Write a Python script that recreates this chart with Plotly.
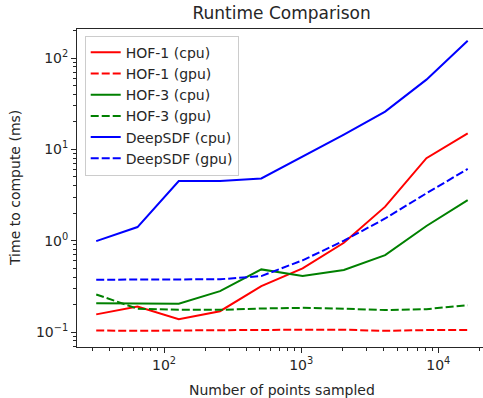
import plotly.graph_objects as go

# ---- data ----
n_points = [32, 64, 128, 256, 512, 1024, 2048, 4096, 8192, 16384]
hof1_cpu = [0.156, 0.19, 0.138, 0.169, 0.318, 0.497, 0.95, 2.36, 8.0, 15.0]
hof1_gpu = [0.104, 0.103, 0.104, 0.105, 0.106, 0.106, 0.106, 0.103, 0.105, 0.105]
hof3_cpu = [0.207, 0.207, 0.204, 0.28, 0.485, 0.41, 0.477, 0.695, 1.45, 2.78]
hof3_gpu = [0.258, 0.18, 0.175, 0.175, 0.181, 0.184, 0.180, 0.174, 0.178, 0.197]
deep_cpu = [0.99, 1.41, 4.5, 4.5, 4.8, 8.3, 14.5, 25.9, 58.0, 155.0]
deep_gpu = [0.374, 0.374, 0.376, 0.378, 0.41, 0.61, 1.0, 1.75, 3.3, 6.1]

series = [
    ("HOF-1 (cpu)", hof1_cpu, "#ff0000", "solid"),
    ("HOF-1 (gpu)", hof1_gpu, "#ff0000", "8px,3px"),
    ("HOF-3 (cpu)", hof3_cpu, "#008000", "solid"),
    ("HOF-3 (gpu)", hof3_gpu, "#008000", "8px,3px"),
    ("DeepSDF (cpu)", deep_cpu, "#0000ff", "solid"),
    ("DeepSDF (gpu)", deep_gpu, "#0000ff", "8px,3px"),
]

x_major = [100, 1000, 10000]
x_major_text = ["10<sup>2</sup>", "10<sup>3</sup>", "10<sup>4</sup>"]
y_major = [0.1, 1, 10, 100]
y_major_text = ["10<sup>\u22121</sup>", "10<sup>0</sup>", "10<sup>1</sup>", "10<sup>2</sup>"]

x_minor = [m * 10 ** e for e in range(1, 5) for m in range(2, 10)]
y_minor = [m * 10 ** e for e in range(-2, 3) for m in range(2, 10)]

FONT = "DejaVu Sans"

fig = go.Figure()
for i, (name, vals, color, dash) in enumerate(series):
    fig.add_trace(go.Scatter(
        x=n_points, y=vals, mode="lines", name=name,
        line=dict(color=color, width=2, dash=dash),
    ))

fig.update_layout(
    width=483, height=398,
    margin=dict(l=77, r=0, t=29, b=51),
    paper_bgcolor="white", plot_bgcolor="white",
    font=dict(family=FONT, size=14, color="#262626"),
    showlegend=True,
    title=dict(text="Runtime Comparison", x=0.504, xref="paper", xanchor="center",
               y=1 - 13 / 398, yref="container", yanchor="middle",
               font=dict(family=FONT, size=17, color="#262626")),
    legend=dict(x=0.019, y=0.979, xanchor="left", yanchor="top",
                bgcolor="rgba(255,255,255,0.8)", bordercolor="#cccccc", borderwidth=1,
                font=dict(family=FONT, size=14, color="#262626"),
                traceorder="normal", itemwidth=30),
)

fig.update_xaxes(
    type="log", range=[1.365, 4.326],
    showgrid=False, zeroline=False,
    showline=True, linecolor="#262626", linewidth=1, mirror=True,
    ticks="outside", ticklen=5, tickcolor="#262626",
    tickmode="array", tickvals=x_major, ticktext=x_major_text,
    minor=dict(ticks="outside", ticklen=3, tickcolor="#262626", tickmode="array", tickvals=x_minor, showgrid=False),
)
fig.update_yaxes(
    type="log", range=[-1.164, 2.318],
    showgrid=False, zeroline=False,
    showline=True, linecolor="#262626", linewidth=1, mirror=False,
    ticks="outside", ticklen=5, tickcolor="#262626",
    tickmode="array", tickvals=y_major, ticktext=y_major_text,
    minor=dict(ticks="outside", ticklen=3, tickcolor="#262626", tickmode="array", tickvals=y_minor, showgrid=False),
)

fig.add_annotation(text="Time to compute (ms)", textangle=-90, showarrow=False,
                   xref="paper", yref="paper", x=0, y=0.5, xanchor="center", yanchor="middle",
                   xshift=-62, font=dict(family=FONT, size=14, color="#262626"))
fig.add_annotation(text="Number of points sampled", showarrow=False,
                   xref="paper", yref="paper", x=0.504, y=0, xanchor="center", yanchor="middle",
                   yshift=-43, font=dict(family=FONT, size=14, color="#262626"))

fig.write_html("out.html")
